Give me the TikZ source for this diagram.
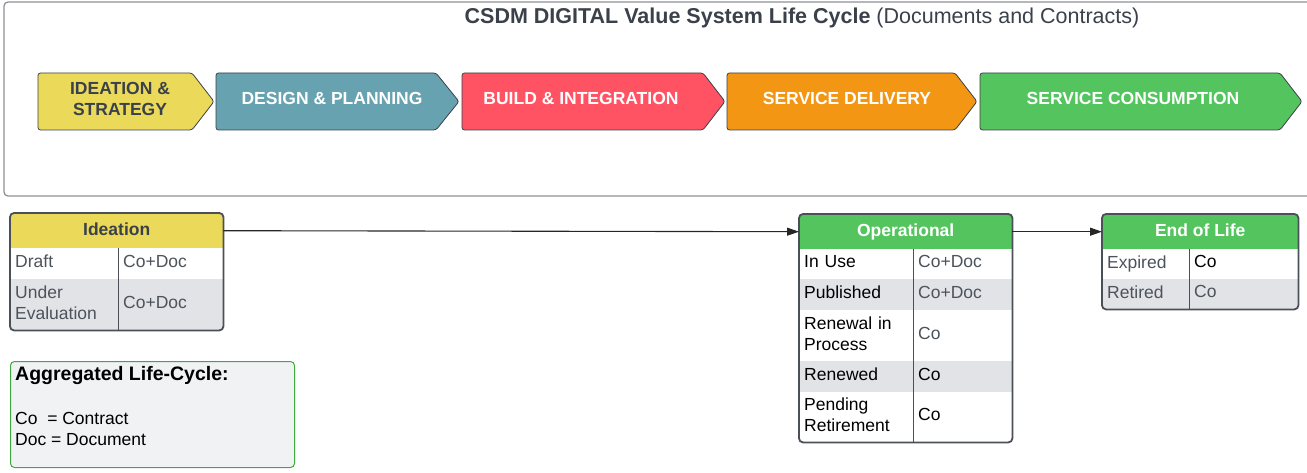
\documentclass[tikz,border=0pt]{standalone}
\usepackage{fontspec}
\setmainfont{Liberation Sans}
\usepackage{tikz}
\usetikzlibrary{arrows.meta,positioning}

\definecolor{cyellow}{HTML}{EBD95A}
\definecolor{cteal}{HTML}{66A2B0}
\definecolor{cred}{HTML}{FF5364}
\definecolor{corange}{HTML}{F29614}
\definecolor{cgreen}{HTML}{54C45E}
\definecolor{rowgray}{HTML}{E1E3E7}
\definecolor{legfill}{HTML}{F1F2F4}
\definecolor{legline}{HTML}{3EAA3E}
\definecolor{ink}{HTML}{3A414A}
\definecolor{soft}{HTML}{4D535B}
\definecolor{edge}{HTML}{4B5058}
\definecolor{framegray}{HTML}{8E9196}

\begin{document}
\begin{tikzpicture}[
        x=1pt, y=-1pt,
        frame/.style={draw=framegray, line width=1.3pt, rounded corners=4pt},
        chev/.style={draw=ink, line width=0.8pt, rounded corners=2.5pt},
        chevtext/.style={font=\fontsize{17.5}{21}\selectfont\bfseries, text=white, align=center, inner sep=0pt},
        hdr/.style={anchor=north west, minimum height=35pt, inner sep=0pt, text depth=4pt, font=\fontsize{17.5}{21}\selectfont\bfseries, text=white},
        tcell/.style={anchor=north west, inner xsep=5pt, inner ysep=0pt, text depth=5pt, align=left, font=\fontsize{17.5}{21}\selectfont, text=soft},
        tcell2/.style={tcell, text depth=26pt},
        tbl/.style={draw=edge, line width=1.8pt, rounded corners=4pt},
        coldiv/.style={draw=edge, line width=1.4pt},
        legend/.style={draw=legline, fill=legfill, line width=1pt, rounded corners=4pt, inner sep=0pt},
        arrow/.style={-{Triangle[length=12pt,width=8pt]}, line width=1.1pt, draw=black!85}
    ]
    \useasboundingbox (0,0) rectangle (1307,473);

    % Header frame and title
    \draw[frame] (1307,2) -- (4,2) -- (4,196) -- (1307,196);
    \node[font=\fontsize{21.5}{24}\selectfont, text=ink, inner sep=0pt] (title) at (802,18)
        {\textbf{CSDM DIGITAL Value System Life Cycle} (Documents and Contracts)};

    % Value stream chevrons
    \draw[chev, fill=cyellow] (38,73) -- (192,73) -- (214,101.5) -- (192,130) -- (38,130) -- cycle;
    \node[chevtext, text=ink] (s-idea) at (120,99) {IDEATION \&\\STRATEGY};
    \draw[chev, fill=cteal] (216,73) -- (436,73) -- (459,101.5) -- (436,130) -- (216,130) -- cycle;
    \node[chevtext] (s-design) at (332,98) {DESIGN \& PLANNING};
    \draw[chev, fill=cred] (462,73) -- (703,73) -- (725,101.5) -- (703,130) -- (462,130) -- cycle;
    \node[chevtext] (s-build) at (581,98) {BUILD \& INTEGRATION};
    \draw[chev, fill=corange] (727,73) -- (955,73) -- (977,101.5) -- (955,130) -- (727,130) -- cycle;
    \node[chevtext] (s-deliver) at (847,98) {SERVICE DELIVERY};
    \draw[chev, fill=cgreen] (980,73) -- (1280,73) -- (1302,101.5) -- (1280,130) -- (980,130) -- cycle;
    \node[chevtext] (s-consume) at (1133,98) {SERVICE CONSUMPTION};

    % Ideation
    \begin{scope}
        \clip[rounded corners=4pt] (10,213) rectangle (223,330);
        \node[hdr, fill=cyellow, text=ink, minimum width=213pt] (idea) at (10,213) {Ideation};
        \node[tcell, fill=white, text width=98pt, minimum height=31pt] (idea-draft) at (10,248) {Draft};
        \node[tcell, fill=white, text width=95pt, minimum height=31pt] (idea-draft-v) at (118,248) {Co+Doc};
        \node[tcell2, fill=rowgray, text width=98pt, minimum height=51pt] (idea-eval) at (10,279) {Under\\Evaluation};
        \node[tcell, fill=rowgray, text width=95pt, minimum height=51pt] (idea-eval-v) at (118,279) {Co+Doc};
    \end{scope}
    \draw[coldiv] (idea-draft.north east) -- (idea-eval.south east);
    \draw[tbl] (idea.north west) rectangle (idea-eval-v.south east);

    % Operational
    \begin{scope}
        \clip[rounded corners=4pt] (799,214) rectangle (1012,442);
        \node[hdr, fill=cgreen, minimum width=213pt] (op) at (799,214) {Operational};
        \node[tcell, fill=white, text=black, text width=104pt, minimum height=30pt] (op-use) at (799,249) {In Use};
        \node[tcell, fill=white, text width=89pt, minimum height=30pt] (op-use-v) at (913,249) {Co+Doc};
        \node[tcell, fill=rowgray, text=black, text width=104pt, minimum height=31pt] (op-pub) at (799,279) {Published};
        \node[tcell, fill=rowgray, text width=89pt, minimum height=31pt] (op-pub-v) at (913,279) {Co+Doc};
        \node[tcell2, fill=white, text=black, text width=104pt, minimum height=51pt] (op-renewal) at (799,310) {Renewal in\\Process};
        \node[tcell, fill=white, text width=89pt, minimum height=51pt] (op-renewal-v) at (913,310) {Co};
        \node[tcell, fill=rowgray, text=black, text width=104pt, minimum height=31pt] (op-renewed) at (799,361) {Renewed};
        \node[tcell, fill=rowgray, text=black, text width=89pt, minimum height=31pt] (op-renewed-v) at (913,361) {Co};
        \node[tcell2, fill=white, text=black, text width=104pt, minimum height=50pt] (op-pending) at (799,392) {Pending\\Retirement};
        \node[tcell, fill=white, text=black, text width=89pt, minimum height=50pt] (op-pending-v) at (913,392) {Co};
    \end{scope}
    \draw[coldiv] (op-use.north east) -- (op-pending.south east);
    \draw[tbl] (op.north west) rectangle (op-pending-v.south east);

    % End of Life
    \begin{scope}
        \clip[rounded corners=4pt] (1102,214) rectangle (1298,309);
        \node[hdr, fill=cgreen, minimum width=196pt] (eol) at (1102,214) {End of Life};
        \node[tcell, fill=white, text width=77pt, minimum height=30pt] (eol-exp) at (1102,249) {Expired};
        \node[tcell, fill=white, text=black, text width=99pt, minimum height=30pt] (eol-exp-v) at (1189,249) {Co};
        \node[tcell, fill=rowgray, text width=77pt, minimum height=30pt] (eol-ret) at (1102,279) {Retired};
        \node[tcell, fill=rowgray, text width=99pt, minimum height=30pt] (eol-ret-v) at (1189,279) {Co};
    \end{scope}
    \draw[coldiv] (eol-exp.north east) -- (eol-ret.south east);
    \draw[tbl] (eol.north west) rectangle (eol-ret-v.south east);

    % Transitions
    \draw[arrow] (idea.east) -- (op.west);
    \draw[arrow] (op.east) -- (eol.west);

    % Legend
    \node[legend, minimum width=284pt, minimum height=106pt, anchor=north west] (legend) at (10,361) {};
    \node[anchor=north west, align=left, inner sep=0pt, font=\fontsize{17.5}{21}\selectfont, text=black] (legend-txt) at (15,366)
        {{\fontsize{19.5}{21}\selectfont\bfseries Aggregated Life-Cycle:}\\[23pt]Co\ \ = Contract\\Doc = Document};

\end{tikzpicture}
\end{document}
